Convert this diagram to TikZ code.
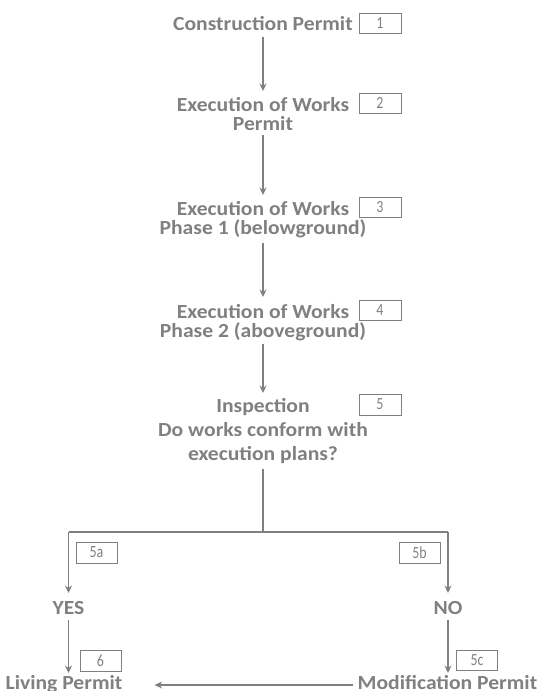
\documentclass[tikz,border=0pt]{standalone}
\usepackage{fontspec}
\setmainfont{Carlito}[FakeStretch=1.08]
\newfontfamily\numfont{Carlito}[FakeStretch=0.82]
\usetikzlibrary{arrows.meta,calc}
\definecolor{fg}{RGB}{128,128,130}
\tikzset{
  lbl/.style={font=\bfseries\fontsize{20}{18.5}\selectfont, text=fg, align=center,
     inner xsep=0pt, inner ysep=0pt, anchor=base},
  lblwide/.style={lbl, font=\bfseries\fontsize{20}{24}\selectfont},
  num/.style={draw=fg, line width=0.8pt, minimum height=20pt, inner sep=0pt, text=fg,
     font=\numfont\fontsize{17}{17}\selectfont},
  tip/.style={-{Stealth[length=7.5pt,width=7pt]}},
  flow/.style={draw=fg, line width=1.3pt, tip},
  plain/.style={draw=fg, line width=1.3pt}
}
\begin{document}
\begin{tikzpicture}[x=1pt,y=-1pt]
\useasboundingbox (0,0) rectangle (537,691);
% labels (anchor = baseline of last line)
\node[lbl] (n1) at (263,30) {Construction Permit};
\node[lbl] (n2) at (263,130) {Execution of Works\\Permit};
\node[lbl] (n3) at (263,234) {Execution of Works\\Phase 1 (belowground)};
\node[lbl] (n4) at (263,337) {Execution of Works\\Phase 2 (aboveground)};
\node[lblwide] (n5) at (263,460) {Inspection\\Do works conform with\\execution plans?};
\node[lbl] (yes) at (68.5,614) {YES};
\node[lbl] (no) at (448,614) {NO};
\node[lbl] (liv) at (64,689) {Living Permit};
\node[lbl] (mod) at (447.5,689) {Modification Permit};
% number boxes
\node[num, minimum width=42pt] (b1) at (380,23) {1};
\node[num, minimum width=42pt] (b2) at (380,103) {2};
\node[num, minimum width=42pt] (b3) at (380,207) {3};
\node[num, minimum width=42pt] (b4) at (380,310) {4};
\node[num, minimum width=42pt, minimum height=21pt] (b5) at (380,404.5) {5};
\node[num, minimum width=41pt, minimum height=21pt] (b5a) at (96.5,552.5) {5a};
\node[num, minimum width=41pt, minimum height=21pt] (b5b) at (419.5,552.5) {5b};
\node[num, minimum width=41pt, minimum height=21pt] (b6) at (100.5,660.5) {6};
\node[num, minimum width=41pt] (b5c) at (477,660) {5c};
% junction
\coordinate (j) at (263,532);
\coordinate (jl) at (68.5,532);
\coordinate (jr) at (448,532);
% connectors
\draw[flow] ($(n1.base)+(0,7)$) -- ($(n2.base)+(0,-39)$);
\draw[flow] ($(n2.base)+(0,5)$) -- ($(n3.base)+(0,-39)$);
\draw[flow] ($(n3.base)+(0,9)$) -- ($(n4.base)+(0,-40)$);
\draw[flow] ($(n4.base)+(0,7)$) -- ($(n5.base)+(0,-67)$);
\draw[plain] ($(n5.base)+(0,9)$) -- (j);
\draw[plain] (jl) -- (jr);
\draw[flow] (jl) -- ($(yes.base)+(0,-21)$);
\draw[flow] (jr) -- ($(no.base)+(0,-21)$);
\draw[flow] ($(yes.base)+(0,6)$) -- ($(liv.base -| yes.base)+(0,-16)$);
\draw[flow] ($(no.base)+(0,6)$) -- ($(mod.base -| no.base)+(0,-16)$);
\draw[flow] ($(mod.base -| mod.west)+(-5,-4)$) -- ($(liv.base -| liv.east)+(32,-4)$);
\end{tikzpicture}
\end{document}
